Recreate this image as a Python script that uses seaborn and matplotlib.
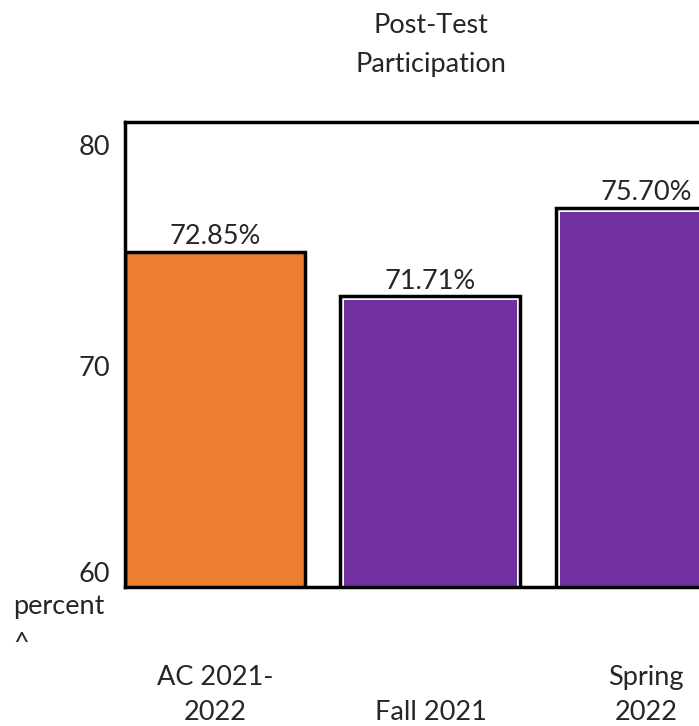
import matplotlib
matplotlib.use("Agg")
import matplotlib.pyplot as plt
from matplotlib.patches import Rectangle
import seaborn as sns

# chart data (bar heights as drawn in the picture, labels as printed)
categories = ["AC 2021-2022", "Fall 2021", "Spring 2022"]
bar_heights = [75.15, 73.15, 77.15]
value_labels = ["72.85%", "71.71%", "75.70%"]
tick_labels = ["AC 2021-\n2022", "\nFall 2021", "Spring\n2022"]
y_ticks = [60, 70, 80]
orange = "#ED7D31"
purple = "#7030A0"
bar_colors = [orange, purple, purple]

sns.set_style("white")
plt.rcParams["font.family"] = ["Lato", "DejaVu Sans"]
fs = 19.5

fig = plt.figure(figsize=(6.99, 7.26), dpi=100)
ax = fig.add_axes([0.1788, 0.1915, 0.8212, 0.6405])

sns.barplot(x=categories, y=bar_heights, hue=categories, palette=bar_colors,
            width=0.835, linewidth=0, saturation=1, legend=False, ax=ax)

# black outline, with a thin white inner line on the purple bars
for patch, col in zip(list(ax.patches), bar_colors):
    x, y = patch.get_xy()
    w, h = patch.get_width(), patch.get_height()
    if col == purple:
        inner = Rectangle((x, y), w, h, fill=False, edgecolor="white",
                          linewidth=5, zorder=patch.get_zorder() + 0.1)
        ax.add_patch(inner)
        inner.set_clip_path(patch)
    ax.add_patch(Rectangle((x, y), w, h, fill=False, edgecolor="black",
                           linewidth=2.5, zorder=patch.get_zorder() + 0.2))

for cont, lab in zip(ax.containers, value_labels):
    ax.bar_label(cont, labels=[lab], padding=2, fontsize=fs)

ax.set_ylim(60, 81.04)
ax.set_xlim(-0.4175, 2.246)
ax.set_yticks(y_ticks)
ax.set_xticks(range(len(categories)), tick_labels)
ax.tick_params(axis="both", length=0, labelsize=fs)
ax.tick_params(axis="x", pad=56)
ax.tick_params(axis="y", pad=11)
for t in ax.get_xticklabels():
    t.set_linespacing(1.5)
# the lowest tick label sits above the axis line
ax.get_yticklabels()[0].set_verticalalignment("bottom")
ax.set_xlabel("")
ax.set_ylabel("")

for s in ax.spines.values():
    s.set_linewidth(2.5)
    s.set_color("black")
ax.spines["right"].set_visible(False)

fig.text(0.617, 1 - 13 / 726, "Post-Test\nParticipation", ha="center", va="top",
         fontsize=fs, linespacing=1.7)
fig.text(13 / 699, 1 - 594 / 726, "percent\n^", ha="left", va="top",
         fontsize=fs, linespacing=1.6)

fig.savefig("out.png", dpi=100)
